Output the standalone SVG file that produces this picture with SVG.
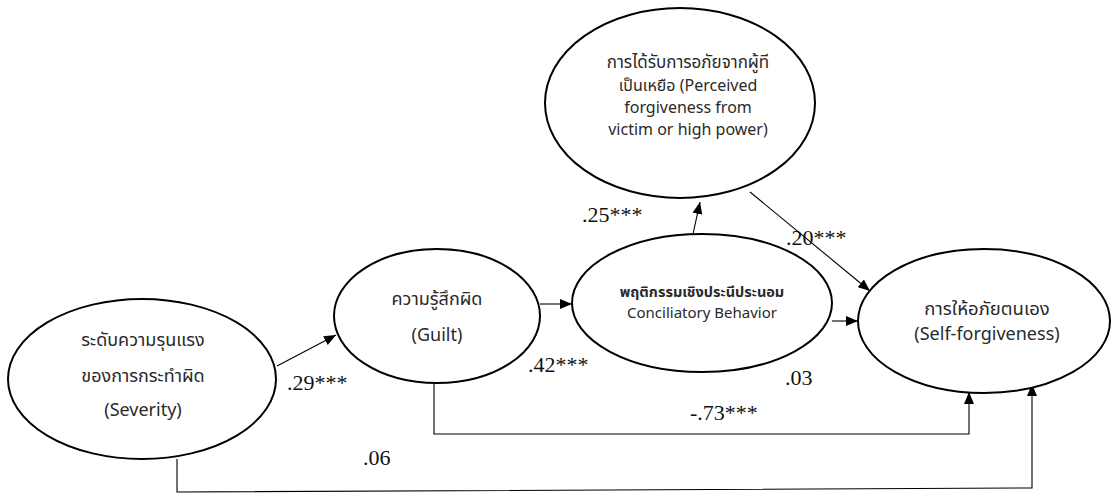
<svg xmlns="http://www.w3.org/2000/svg" width="1112" height="503" viewBox="0 0 1112 503">
<defs>
<marker id="arr" viewBox="0 0 12 10" refX="12" refY="5" markerWidth="12" markerHeight="10" markerUnits="userSpaceOnUse" orient="auto">
<path d="M0,0 L12,5 L0,10 Z" fill="#000"/>
</marker>
<style>
.node{fill:#fff;stroke:#000;stroke-width:2}
.t{font-family:"Noto Sans","Noto Sans Thai","DejaVu Sans",sans-serif;fill:#2a2a2a;text-anchor:middle}
.c{fill:none;stroke:#000;stroke-width:1.1}
.lbl{font-family:"Liberation Serif","Times New Roman",serif;font-size:22px;fill:#111}
</style>
</defs>
<rect width="1112" height="503" fill="#fff"/>
<g id="connectors">
<line class="c" x1="277" y1="366" x2="336" y2="335" marker-end="url(#arr)"/>
<line class="c" x1="540" y1="304" x2="572" y2="304" marker-end="url(#arr)"/>
<line class="c" x1="693" y1="234" x2="700" y2="202" marker-end="url(#arr)"/>
<line class="c" x1="832" y1="321" x2="858" y2="321" marker-end="url(#arr)"/>
<line class="c" x1="750" y1="192" x2="870" y2="291" marker-end="url(#arr)"/>
<polyline class="c" points="434,383 434,434 969,434 969,392" marker-end="url(#arr)"/>
<polyline class="c" points="177,459 177,492 1032,488 1032,384" marker-end="url(#arr)"/>
</g>
<g id="labels">
<text class="lbl" x="287" y="390">.29***</text>
<text class="lbl" x="528" y="372">.42***</text>
<text class="lbl" x="582" y="222">.25***</text>
<text class="lbl" x="786" y="245">.20***</text>
<text class="lbl" x="785" y="385">.03</text>
<text class="lbl" x="690" y="420">-.73***</text>
<text class="lbl" x="363" y="465">.06</text>
</g>
<g id="perceived">
<ellipse class="node" cx="680" cy="103" rx="135" ry="95"/>
<text class="t" font-size="17" x="688" y="68">การได้รับการอภัยจากผู้ที</text>
<text class="t" font-size="16" x="688" y="91">เป็นเหยือ (Perceived</text>
<text class="t" font-size="16" x="688" y="113">forgiveness from</text>
<text class="t" font-size="16" x="688" y="135">victim or high power)</text>
</g>
<g id="severity">
<ellipse class="node" cx="142" cy="379" rx="134" ry="80"/>
<text class="t" font-size="18" x="143" y="346">ระดับความรุนแรง</text>
<text class="t" font-size="18" x="143" y="382">ของการกระทำผิด</text>
<text class="t" font-size="18" x="143" y="416">(Severity)</text>
</g>
<g id="guilt">
<ellipse class="node" cx="437" cy="316" rx="103" ry="67"/>
<text class="t" font-size="18" x="437" y="305">ความรู้สึกผิด</text>
<text class="t" font-size="18" x="437" y="341">(Guilt)</text>
</g>
<g id="conciliatory">
<ellipse class="node" cx="702" cy="303" rx="130" ry="69"/>
<text class="t" font-size="14.5" font-weight="bold" x="702" y="297">พฤติกรรมเชิงประนีประนอม</text>
<text class="t" font-size="15" x="702" y="318">Conciliatory Behavior</text>
</g>
<g id="selfforgiveness">
<ellipse class="node" cx="984" cy="321" rx="126" ry="72"/>
<text class="t" font-size="18.5" x="987" y="315">การให้อภัยตนเอง</text>
<text class="t" font-size="18" x="987" y="340">(Self-forgiveness)</text>
</g>
</svg>
